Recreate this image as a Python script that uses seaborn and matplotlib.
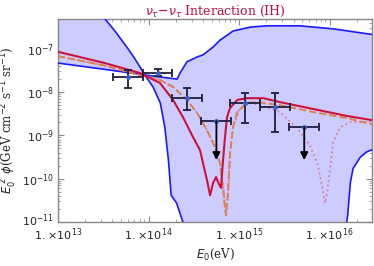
import numpy as np
import pandas as pd
import matplotlib
matplotlib.use("Agg")
import matplotlib.pyplot as plt
import matplotlib.transforms as mtransforms
import seaborn as sns

# log10 of E0 (eV) and log10 of flux for every curve
band_a_x = [13.0, 13.5, 13.98, 14.2, 14.315, 14.348, 14.425, 14.536, 14.602, 14.713, 14.79, 14.934, 15.122, 15.309, 15.674, 16.039, 16.47]
band_a_y = [-7.33, -7.47, -7.61, -7.67, -7.70, -7.56, -7.30, -7.19, -7.14, -6.96, -6.80, -6.59, -6.50, -6.47, -6.47, -6.54, -6.67]

band_b_x = [13.0, 13.3, 13.52, 13.64, 13.76, 13.84, 13.906, 13.96, 14.05, 14.13, 14.18, 14.22, 14.25, 14.31, 14.38, 14.6, 15.5, 16.19, 16.20, 16.23, 16.26, 16.34, 16.41, 16.48]
band_b_y = [-4.5, -5.5, -6.31, -6.62, -6.96, -7.2, -7.42, -7.61, -7.88, -8.25, -8.81, -9.57, -10.38, -10.56, -11.0, -12.0, -12.0, -11.0, -10.84, -10.08, -9.76, -9.50, -9.38, -9.32]

red_x = [13.0, 13.5, 13.906, 14.127, 14.271, 14.381, 14.492, 14.569, 14.602, 14.646, 14.68, 14.713, 14.746, 14.768, 14.801, 14.823, 14.845, 14.867, 14.90, 14.98, 15.09, 15.27, 15.45, 15.82, 16.19, 16.48]
red_y = [-7.07, -7.32, -7.56, -7.79, -8.18, -8.58, -9.04, -9.34, -9.64, -10.03, -10.38, -10.10, -9.96, -10.08, -10.21, -9.57, -9.04, -8.58, -8.37, -8.18, -8.14, -8.14, -8.23, -8.39, -8.55, -8.65]

dash_x = [13.0, 13.5, 13.906, 14.127, 14.271, 14.425, 14.536, 14.646, 14.735, 14.79, 14.823, 14.845, 14.856, 14.878, 14.901, 14.934, 14.98, 15.09, 15.20, 15.45, 15.82, 16.19, 16.48]
dash_y = [-7.17, -7.38, -7.61, -7.72, -7.88, -8.18, -8.48, -8.88, -9.27, -9.64, -10.19, -10.65, -10.84, -10.33, -9.41, -8.81, -8.46, -8.25, -8.23, -8.30, -8.46, -8.60, -8.75]

dot_x = [13.0, 13.5, 13.906, 14.127, 14.271, 14.425, 14.536, 14.646, 14.735, 14.79, 14.823, 14.845, 14.856, 14.878, 14.901, 14.93, 15.01, 15.12, 15.27, 15.45, 15.64, 15.78, 15.87, 15.93, 15.95, 15.97, 16.01, 16.04, 16.12, 16.23, 16.48]
dot_y = [-7.17, -7.38, -7.61, -7.72, -7.88, -8.18, -8.48, -8.88, -9.27, -9.64, -10.19, -10.65, -10.84, -10.33, -9.41, -8.83, -8.37, -8.25, -8.32, -8.46, -8.83, -9.22, -9.68, -10.31, -10.56, -10.38, -9.68, -9.15, -8.81, -8.69, -8.69]

# data points (log10 values)
pt_x = [13.77, 14.10, 14.43, 15.07, 15.40]
pt_y = [-7.65, -7.56, -8.14, -8.25, -8.34]
pt_lo = [-7.91, -7.63, -8.41, -8.71, -8.92]
pt_hi = [-7.49, -7.47, -7.91, -8.02, -8.02]
lim_x = [14.75, 15.72]
lim_y = [-8.67, -8.81]
lim_end = [-9.57, -9.57]
bin_half = 0.165

x_ticks = [1e13, 1e14, 1e15, 1e16]
x_labels = [r"$1.\!\times\!10^{13}$", r"$1.\!\times\!10^{14}$", r"$1.\!\times\!10^{15}$", r"$1.\!\times\!10^{16}$"]
y_ticks = [1e-11, 1e-10, 1e-9, 1e-8, 1e-7]
y_labels = [r"$10^{-11}$", r"$10^{-10}$", r"$10^{-9}$", r"$10^{-8}$", r"$10^{-7}$"]

sns.set_style("ticks")
plt.rcParams["mathtext.fontset"] = "dejavusans"

fig = plt.figure(figsize=(3.74, 2.66), dpi=100)
ax = fig.add_axes([0.155, 0.165, 0.84, 0.764])

def pw(v):
    return [10 ** t for t in v]

# bowtie band
poly_x = pw(band_a_x) + pw(band_b_x[::-1])
poly_y = pw(band_a_y) + pw(band_b_y[::-1])
ax.fill(poly_x, poly_y, color="#ccccff", lw=0, zorder=1)

curves = [
    (band_a_x, band_a_y, "#1a1aff", "-", 1.2),
    (band_b_x, band_b_y, "#1a1aff", "-", 1.2),
    (dot_x, dot_y, "#e0789a", ":", 1.3),
    (dash_x, dash_y, "#e08048", "--", 1.4),
    (red_x, red_y, "#d0103a", "-", 1.5),
]
for cx, cy, col, ls, lw in curves:
    df = pd.DataFrame({"E": pw(cx), "flux": pw(cy)})
    sns.lineplot(data=df, x="E", y="flux", color=col, linestyle=ls, lw=lw,
                 sort=False, estimator=None, ax=ax, zorder=3)

ecol = "#1e1e3c"
xl = [10 ** (v - bin_half) for v in pt_x]
xh = [10 ** (v + bin_half) for v in pt_x]
px = pw(pt_x)
py = pw(pt_y)
ax.errorbar(px, py,
            xerr=[np.subtract(px, xl), np.subtract(xh, px)],
            yerr=[np.subtract(py, pw(pt_lo)), np.subtract(pw(pt_hi), py)],
            fmt="o", ms=2.5, mfc="#3a5fcd", mec="#3a5fcd", ecolor=ecol,
            elinewidth=1.3, capsize=3, capthick=1.3, zorder=5)
lx = pw(lim_x)
ly = pw(lim_y)
ax.errorbar(lx, ly,
            xerr=[np.subtract(lx, [10 ** (v - bin_half) for v in lim_x]),
                  np.subtract([10 ** (v + bin_half) for v in lim_x], lx)],
            fmt="o", ms=2.5, mfc="#3a5fcd", mec="#3a5fcd", ecolor=ecol,
            elinewidth=1.3, capsize=3, capthick=1.3, zorder=5)
for x0, y0, y1 in zip(lx, ly, pw(lim_end)):
    ax.annotate("", xy=(x0, y1), xytext=(x0, y0),
                arrowprops=dict(arrowstyle="-|>", color="black", lw=1.3,
                                mutation_scale=11, shrinkA=0, shrinkB=0),
                zorder=6)

ax.set_xscale("log")
ax.set_yscale("log")
ax.set_xlim(1e13, 10 ** 16.47)
ax.set_ylim(1e-11, 10 ** -6.31)
ax.set_xticks(x_ticks)
ax.set_xticklabels(x_labels, fontsize=8)
ax.set_yticks(y_ticks)
ax.set_yticklabels(y_labels, fontsize=8)
ax.tick_params(which="both", direction="in", color="#888888", top=True, right=True)
ax.tick_params(which="major", length=4, width=0.8)
ax.tick_params(axis="x", which="major", pad=3)
ax.tick_params(axis="y", which="major", pad=3)
ax.tick_params(which="minor", length=2, width=0.5)
for s in ax.spines.values():
    s.set_color("#888888")
    s.set_linewidth(1.0)
# nudge the lowest y label up a touch so it clears the first x label
lab0 = ax.get_yticklabels()[0]
lab0.set_transform(lab0.get_transform() +
                   mtransforms.ScaledTranslation(0, 2.5 / 72, fig.dpi_scale_trans))

ax.set_xlabel(r"$E_0$(eV)", family="DejaVu Serif", fontsize=8.5, labelpad=3)
ax.set_ylabel(r"$E_0^{\ 2}\ \phi$(GeV cm$^{-2}$ s$^{-1}$ sr$^{-1}$)", family="DejaVu Serif",
              fontsize=8.5, labelpad=2)
ax.set_title(r"$\nu_\tau$$-$$\nu_\tau$ Interaction (IH)", color="#c0103a",
             family="DejaVu Serif", fontsize=9, pad=3)

fig.savefig("out.png", dpi=100)
